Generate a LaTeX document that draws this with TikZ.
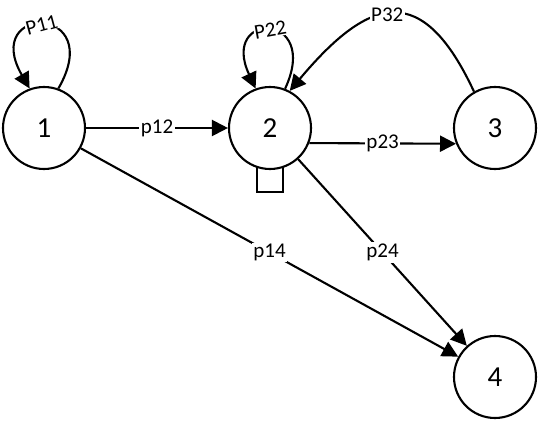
\documentclass[tikz,border=0pt]{standalone}
\usepackage{fontspec}
\setmainfont{Carlito}
\usetikzlibrary{arrows.meta}
\begin{document}
\begin{tikzpicture}[x=1pt,y=1pt,
  state/.style={circle,draw,line width=2.1pt,minimum size=82pt,inner sep=0pt,fill=white,font=\fontsize{29}{29}\selectfont},
  arr/.style={line width=2.1pt,-{Triangle[length=16pt,width=16pt]}},
  lbl/.style={fill=white,inner sep=1.5pt,font=\fontsize{21}{21}\selectfont}]
\useasboundingbox (0,0) rectangle (538,421);
\draw[line width=2.1pt] (257,229) rectangle (283,258);
\node[state] (n1) at (44,293) {1};
\node[state] (n2) at (270,293) {2};
\node[state] (n3) at (495,293) {3};
\node[state] (n4) at (495,44) {4};
\draw[arr] (n1) -- node[lbl] {p12} (n2);
\draw[arr] (n2.-21.5) -- node[lbl] {p23} (n3.-158.5);
\draw[arr] (n1) -- node[lbl] {p14} (n4);
\draw[arr] (n2) -- node[lbl] {p24} (n4);
\draw[arr] (n1.70) .. controls +(60:98) and +(120:98) .. node[lbl,pos=0.52,rotate=15,inner sep=0.5pt] {P11} (n1.110);
\draw[arr] (n2.69) .. controls +(65:86) and +(115:86) .. node[lbl,pos=0.5,rotate=10,inner sep=0.5pt] {P22} (n2.110);
\draw[arr] (n3.120) .. controls +(115:122) and +(50:125) .. node[lbl,pos=0.53] {P32} (n2.62);
\end{tikzpicture}
\end{document}
